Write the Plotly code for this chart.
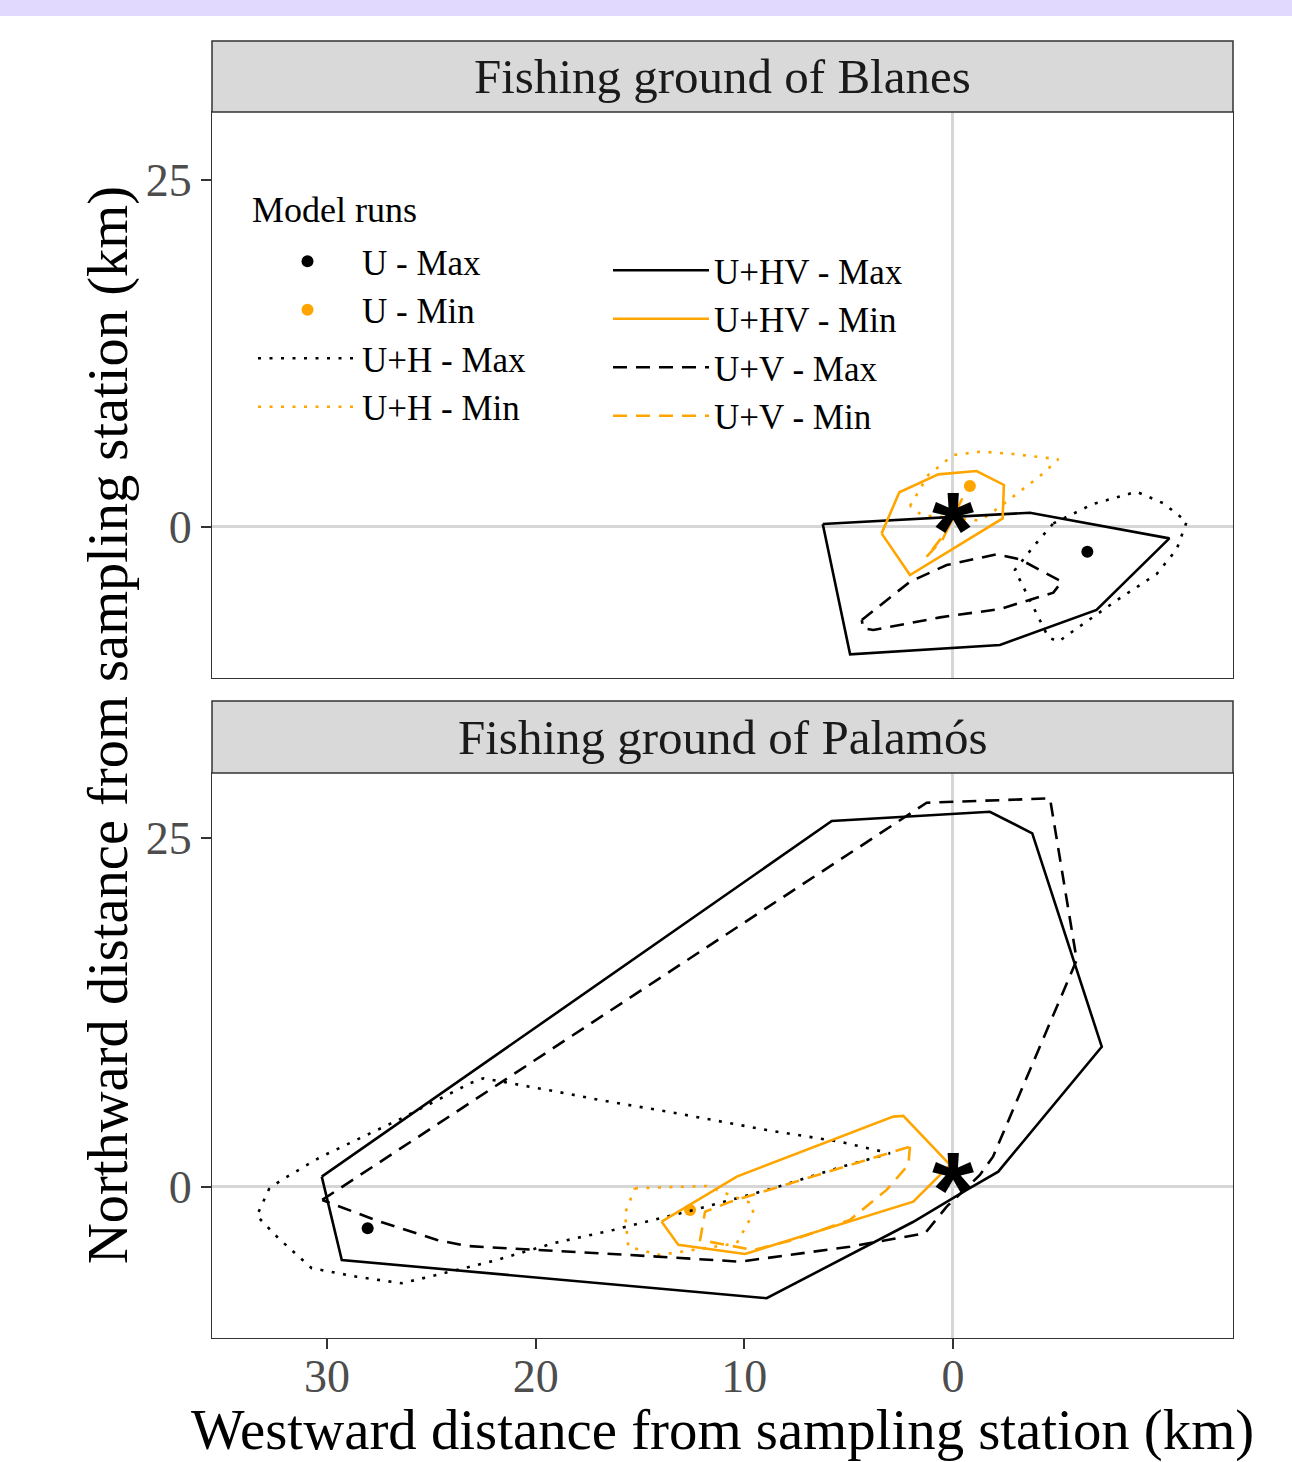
import plotly.graph_objects as go

FONT = "Liberation Serif"
BLACK = "black"
ORANGE = "#FFA500"

PANEL_TITLES = ["Fishing ground of Blanes", "Fishing ground of Palamós"]
X_TICKS = [0, 10, 20, 30]
Y_TICKS = [0, 25]

# sampling station
STATION_X = [0]
STATION_Y = [0]

# ---- U (points): [Blanes, Palamós]
U_MAX_X = [-6.44, 28.05]
U_MAX_Y = [-1.78, -2.96]
U_MIN_X = [-0.81, 12.60]
U_MIN_Y = [2.95, -1.65]

# ---- Blanes polygons
B_HV_MAX_X = [6.24, 4.93, -2.25, -6.88, -10.37, -3.69, 6.24]
B_HV_MAX_Y = [0.22, -9.17, -8.50, -5.98, -0.82, 1.03, 0.22]
B_HV_MIN_X = [3.42, 2.57, 0.70, -1.13, -2.44, -2.38, 2.06, 3.42]
B_HV_MIN_Y = [-0.46, 2.50, 3.79, 4.03, 3.03, 0.62, -3.46, -0.46]
B_H_MAX_X = [-4.81, -6.72, -8.80, -10.08, -11.20, -10.72, -9.76, -7.92, -6.17, -5.05, -4.57, -3.93, -2.97, -3.85, -4.81]
B_H_MAX_Y = [0.26, 1.66, 2.54, 1.71, 0.38, -1.61, -3.39, -5.21, -7.06, -8.26, -7.95, -5.98, -3.10, -1.42, 0.26]
B_H_MIN_X = [2.06, 1.18, -0.02, -1.37, -2.89, -5.05, -4.17, -3.05, -1.93, -1.29, 1.50, 2.06]
B_H_MIN_Y = [1.51, 3.75, 5.19, 5.43, 5.26, 4.88, 3.67, 2.38, 1.10, 0.46, 0.86, 1.51]
B_V_MAX_X = [4.37, 2.06, 0.30, -2.09, -3.21, -5.21, -4.81, -2.25, 0.62, 3.82, 4.30, 4.37]
B_V_MAX_Y = [-6.70, -3.94, -2.74, -1.97, -2.33, -3.94, -4.73, -5.91, -6.51, -7.42, -7.30, -6.70]
B_V_MIN_X = [1.26, 0.50, -0.45, 0.30, 1.26]
B_V_MIN_Y = [-2.14, -0.90, 2.07, -0.30, -2.14]

# ---- Palamós polygons
P_HV_MAX_X = [30.25, 5.81, -1.77, -3.80, -7.13, -2.17, -0.66, 1.92, 8.93, 29.29, 30.25]
P_HV_MAX_Y = [0.74, 26.22, 26.88, 25.34, 10.05, 1.10, -0.21, -2.51, -7.97, -5.23, 0.74]
P_HV_MIN_X = [13.96, 13.16, 9.97, 1.90, 0.14, 2.38, 2.86, 10.36, 13.96]
P_HV_MIN_Y = [-2.49, -4.15, -4.80, -1.05, 1.58, 5.09, 5.04, 0.74, -2.49]
P_H_MAX_X = [32.76, 33.36, 32.33, 30.73, 28.57, 26.42, 24.74, 21.86, 19.15, 16.28, 12.12, 8.61, 5.41, 3.02,
             5.41, 8.93, 13.24, 16.91, 18.99, 22.51, 23.14, 26.42, 30.33, 32.17, 32.76]
P_H_MAX_Y = [-0.09, -2.06, -3.67, -5.82, -6.43, -6.90, -6.30, -5.23, -4.03, -3.08, -1.53, -0.09, 1.41, 2.41,
             3.24, 4.08, 5.28, 6.23, 6.83, 7.79, 7.43, 4.92, 2.13, 0.50, -0.09]
P_H_MIN_X = [15.24, 11.80, 9.65, 9.57, 10.36, 14.04, 15.56, 15.72, 15.24]
P_H_MIN_Y = [-0.09, 0.07, -1.17, -1.88, -4.03, -4.87, -4.28, -1.88, -0.09]
P_V_MAX_X = [30.23, 1.26, -4.65, -5.93, -1.92, -1.29, 0.30, 1.34, 4.94, 10.21, 15.48, 23.29, 24.72, 27.46, 30.23]
P_V_MAX_Y = [-0.93, 27.53, 27.84, 16.26, 2.17, 0.86, -1.41, -3.32, -4.28, -5.35, -4.87, -4.23, -3.80, -2.49, -0.93]
P_V_MIN_X = [2.06, 2.14, 3.18, 4.94, 7.67, 9.57, 12.12, 11.88, 10.69, 2.06]
P_V_MIN_Y = [2.89, 1.58, -0.21, -2.36, -3.80, -4.51, -3.80, -1.77, -1.07, 2.89]

DOT = "3px,8.5px"
DASH = "14px,9px"
LW = 2.6

fig = go.Figure()

# panel axes: top = (x2, y2), bottom = (x, y)
PANEL_AXES = [("x2", "y2"), ("x", "y")]

line_series = [
    ("U+H - Max", "legend", BLACK, DOT, (B_H_MAX_X, B_H_MAX_Y), (P_H_MAX_X, P_H_MAX_Y)),
    ("U+H - Min", "legend", ORANGE, DOT, (B_H_MIN_X, B_H_MIN_Y), (P_H_MIN_X, P_H_MIN_Y)),
    ("U+HV - Max", "legend2", BLACK, "solid", (B_HV_MAX_X, B_HV_MAX_Y), (P_HV_MAX_X, P_HV_MAX_Y)),
    ("U+HV - Min", "legend2", ORANGE, "solid", (B_HV_MIN_X, B_HV_MIN_Y), (P_HV_MIN_X, P_HV_MIN_Y)),
    ("U+V - Max", "legend2", BLACK, DASH, (B_V_MAX_X, B_V_MAX_Y), (P_V_MAX_X, P_V_MAX_Y)),
    ("U+V - Min", "legend2", ORANGE, DASH, (B_V_MIN_X, B_V_MIN_Y), (P_V_MIN_X, P_V_MIN_Y)),
]
point_series = [
    ("U - Max", BLACK, U_MAX_X, U_MAX_Y),
    ("U - Min", ORANGE, U_MIN_X, U_MIN_Y),
]

for name, color, xs, ys in point_series:
    for i, (xa, ya) in enumerate(PANEL_AXES):
        fig.add_trace(go.Scatter(
            x=[xs[i]], y=[ys[i]], mode="markers", name=name,
            marker=dict(color=color, size=12), xaxis=xa, yaxis=ya,
            legend="legend", legendgroup=name, showlegend=(i == 0)))

for name, leg, color, dash, pb, pp in line_series:
    for i, ((xs, ys), (xa, ya)) in enumerate(zip([pb, pp], PANEL_AXES)):
        fig.add_trace(go.Scatter(
            x=xs, y=ys, mode="lines", name=name,
            line=dict(color=color, width=LW, dash=dash), xaxis=xa, yaxis=ya,
            legend=leg, legendgroup=name, showlegend=(i == 0)))

# station star (asterisk glyph placed at the station through the axes)
for xa, ya in PANEL_AXES:
    fig.add_annotation(x=STATION_X[0], y=STATION_Y[0], xref=xa, yref=ya, text="*", showarrow=False,
                       xanchor="center", yanchor="middle", yshift=-3,
                       font=dict(size=108, family="Liberation Sans", color="black", weight="bold"))

W, H = 1292, 1462
ML, MR, MT, MB = 212, 59, 41, 124
PW, PH = W - ML - MR, H - MT - MB


def py2paper(py):
    return (H - MB - py) / PH


def px2paper(px):
    return (px - ML) / PW


axis_common = dict(showline=True, mirror=True, linecolor="#333333", linewidth=1.3,
                   showgrid=False, zeroline=True, zerolinecolor="#D6D6D6", zerolinewidth=2.5,
                   ticks="outside", ticklen=10, tickwidth=2, tickcolor="#333333",
                   tickfont=dict(family=FONT, size=46, color="#4D4D4D"))

XRANGE = [35.51, -13.42]
legend_font = dict(family=FONT, size=35, color="black")
fig.update_layout(
    width=W, height=H,
    margin=dict(l=ML, r=MR, t=MT, b=MB),
    paper_bgcolor="white", plot_bgcolor="white",
    font=dict(family=FONT, color="black"),
    xaxis=dict(domain=[0, 1], anchor="y", range=XRANGE, tickvals=X_TICKS, ticklabelstandoff=-12,
               **axis_common),
    yaxis=dict(domain=[0, py2paper(773)], anchor="x", range=[-10.82, 29.66], tickvals=Y_TICKS, **axis_common),
    xaxis2=dict(domain=[0, 1], anchor="y2", matches="x", range=XRANGE, tickvals=X_TICKS,
                **{**axis_common, "ticks": "", "showticklabels": False}),
    yaxis2=dict(domain=[py2paper(678), py2paper(112)], anchor="x2", range=[-10.88, 29.9], tickvals=Y_TICKS,
                **axis_common),
    legend=dict(x=px2paper(253), y=py2paper(232), xanchor="left", yanchor="top",
                bgcolor="rgba(0,0,0,0)", font=legend_font, itemwidth=99, tracegroupgap=0),
    legend2=dict(x=px2paper(608), y=py2paper(241), xanchor="left", yanchor="top",
                 bgcolor="rgba(0,0,0,0)", font=legend_font, itemwidth=96, tracegroupgap=0),
)

# legend title
fig.add_annotation(xref="paper", yref="paper", x=px2paper(250), y=py2paper(210), text="Model runs",
                   showarrow=False, xanchor="left", yanchor="middle",
                   font=dict(family=FONT, size=36, color="black"))

# strips
strips = [(41, 112, PANEL_TITLES[0]), (701, 773, PANEL_TITLES[1])]
for top, bot, title in strips:
    fig.add_shape(type="rect", xref="paper", yref="paper", x0=0, x1=1,
                  y0=py2paper(bot), y1=py2paper(top),
                  fillcolor="#D9D9D9", line=dict(color="#333333", width=1.5))
    fig.add_annotation(xref="paper", yref="paper", x=0.5, y=py2paper((top + bot) / 2),
                       text=title, showarrow=False, xanchor="center", yanchor="middle",
                       font=dict(family=FONT, size=49, color="#1A1A1A"))

# axis titles
fig.add_annotation(xref="paper", yref="paper", x=px2paper(722), y=py2paper(1430),
                   text="Westward distance from sampling station (km)", showarrow=False,
                   xanchor="center", yanchor="middle", font=dict(family=FONT, size=56.8, color="black"))
fig.add_annotation(xref="paper", yref="paper", x=px2paper(108), y=py2paper(725),
                   text="Northward distance from sampling station (km)", showarrow=False, textangle=-90,
                   xanchor="center", yanchor="middle", font=dict(family=FONT, size=56.5, color="black"))

# lavender band at top of page
fig.add_shape(type="rect", xref="paper", yref="paper", x0=px2paper(0), x1=px2paper(W),
              y0=py2paper(16), y1=py2paper(0), fillcolor="#E1D9FE", line=dict(width=0), layer="above")

fig.write_html("out.html", config={"displayModeBar": False},
               post_script="document.body.style.margin='0px';")
